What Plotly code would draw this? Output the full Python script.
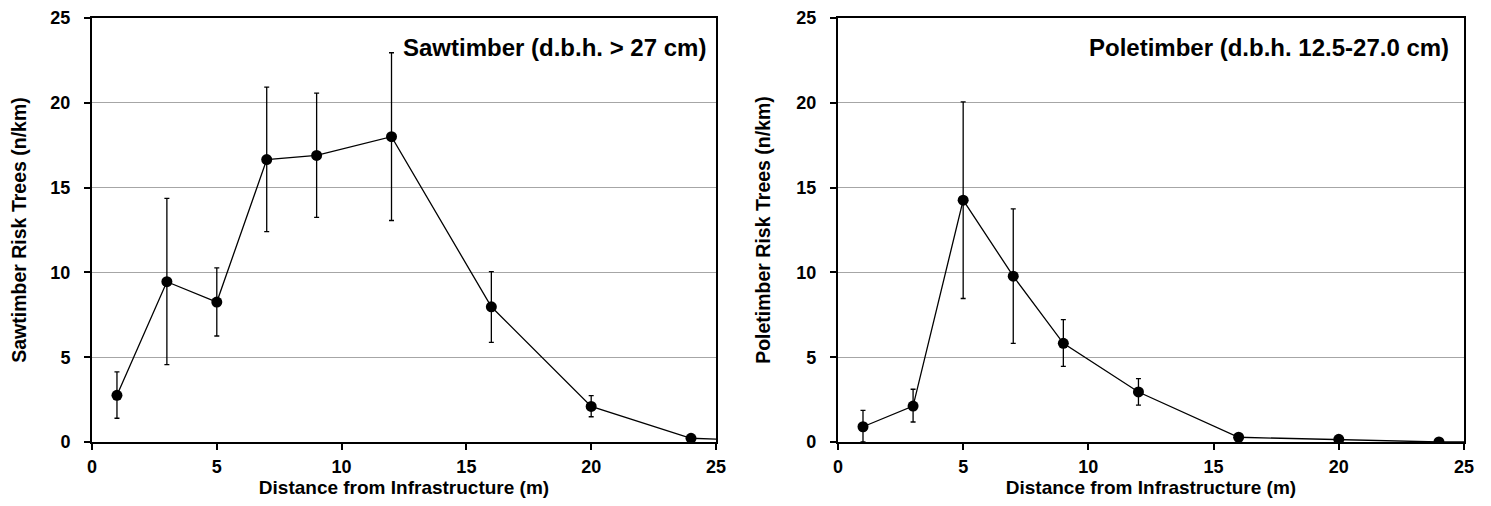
import plotly.graph_objects as go

# Distance classes (m)
dist = [1, 3, 5, 7, 9, 12, 16, 20, 24, 28]

# Sawtimber risk trees (n/km)
saw_mean = [2.75, 9.45, 8.25, 16.65, 16.9, 18.0, 7.97, 2.1, 0.22, 0.0]
saw_hi = [4.13, 14.36, 10.27, 20.93, 20.57, 22.95, 10.05, 2.73, 0.3, 0.0]
saw_lo = [1.40, 4.56, 6.25, 12.41, 13.24, 13.06, 5.88, 1.49, 0.15, 0.0]

# Poletimber risk trees (n/km)
pole_mean = [0.9, 2.12, 14.26, 9.78, 5.82, 2.95, 0.28, 0.16, 0.0, 0.0]
pole_hi = [1.87, 3.11, 20.05, 13.75, 7.22, 3.74, 0.33, 0.2, 0.0, 0.0]
pole_lo = [0.0, 1.18, 8.46, 5.82, 4.46, 2.18, 0.23, 0.12, 0.0, 0.0]

x_ticks = [0, 5, 10, 15, 20, 25]
y_ticks = [0, 5, 10, 15, 20, 25]

FONT = "Liberation Sans, Arial, sans-serif"

fig = go.Figure()

def add_series(mean, hi, lo, xa, ya):
    plus = [h - m for h, m in zip(hi, mean)]
    minus = [m - l for m, l in zip(mean, lo)]
    fig.add_trace(go.Scatter(
        x=dist, y=mean, xaxis=xa, yaxis=ya,
        mode="lines+markers",
        line=dict(color="black", width=1.3),
        marker=dict(color="black", size=11),
        error_y=dict(type="data", array=plus, arrayminus=minus,
                     color="black", thickness=1.3, width=2.5, symmetric=False),
        showlegend=False,
    ))

add_series(saw_mean, saw_hi, saw_lo, "x", "y")
add_series(pole_mean, pole_hi, pole_lo, "x2", "y2")

axis_common = dict(
    showline=True, linecolor="black", linewidth=2, mirror=True,
    ticks="outside", ticklen=6, tickwidth=1.5, tickcolor="black",
    tickfont=dict(family=FONT, size=18, color="black", weight="bold"),
    zeroline=False, range=[0, 25], automargin=False,
)

xaxis_common = dict(axis_common, tickvals=x_ticks, showgrid=False,
                    ticklabelstandoff=1,
                    title=dict(text="Distance from Infrastructure (m)",
                               font=dict(family=FONT, size=19, color="black", weight="bold"),
                               standoff=2))
yaxis_common = dict(axis_common, tickvals=y_ticks, showgrid=True,
                    ticklabelstandoff=10,
                    gridcolor="#a6a6a6", gridwidth=1.2)

YTITLE_FONT = dict(family=FONT, size=19.5, color="black", weight="bold")

fig.update_layout(
    width=1475, height=490,
    margin=dict(l=84, r=19, t=10, b=56),
    paper_bgcolor="white", plot_bgcolor="white",
    xaxis=dict(xaxis_common, domain=[0, 0.4548], anchor="y"),
    yaxis=dict(yaxis_common, domain=[0, 1], anchor="x",
               title=dict(text="Sawtimber Risk Trees (n/km)", font=YTITLE_FONT, standoff=21)),
    xaxis2=dict(xaxis_common, domain=[0.5437, 1], anchor="y2"),
    yaxis2=dict(yaxis_common, domain=[0, 1], anchor="x2",
                title=dict(text="Poletimber Risk Trees (n/km)", font=YTITLE_FONT, standoff=21)),
    annotations=[
        dict(text="Sawtimber (d.b.h. > 27 cm)", xref="x", yref="y", x=24.68, y=23.29,
             xanchor="right", yanchor="middle", showarrow=False,
             font=dict(family=FONT, size=24, color="black", weight="bold")),
        dict(text="Poletimber (d.b.h. 12.5-27.0 cm)", xref="x2", yref="y2", x=24.48, y=23.29,
             xanchor="right", yanchor="middle", showarrow=False,
             font=dict(family=FONT, size=24, color="black", weight="bold")),
    ],
)

fig.write_html("out.html")
